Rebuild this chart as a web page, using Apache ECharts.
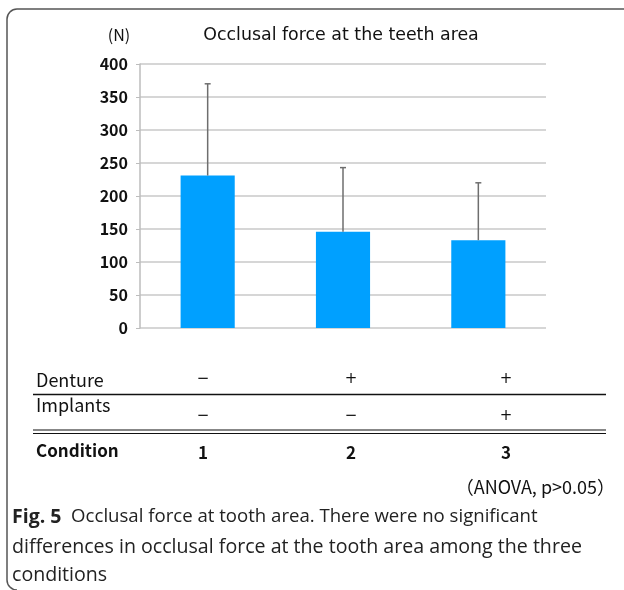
<!DOCTYPE html>
<html>
<head>
<meta charset="utf-8">
<script src="https://cdn.jsdelivr.net/npm/echarts@6/dist/echarts.min.js"></script>
<style>
  html, body { margin: 0; padding: 0; background: #fff; overflow: hidden; }
  #chart { width: 624px; height: 590px; }
</style>
</head>
<body>
<div id="chart"></div>
<script>
// data
const conditions = ['1', '2', '3']
const meanForce = [231, 146, 133]
const upperForce = [370, 243, 220]   // mean + SD (top of whisker)
const yTicks = [0, 50, 100, 150, 200, 250, 300, 350, 400]
const dentureRow = ['−', '+', '+']
const implantsRow = ['−', '−', '+']

const jpFont = '"Noto Sans CJK JP", "Noto Sans", sans-serif'
const capFont = '"Open Sans", "Noto Sans", sans-serif'
const signFont = '"DejaVu Sans", sans-serif'

const chart = echarts.init(document.getElementById('chart'))

// column positions of the table under the chart
const colX = [203, 351, 506]

const tableTexts = []
dentureRow.forEach((t, i) => {
  tableTexts.push({ type: 'text', x: colX[i], y: 379, style: { text: t, font: '15px ' + signFont, fill: '#111', align: 'center', verticalAlign: 'middle' } })
})
implantsRow.forEach((t, i) => {
  tableTexts.push({ type: 'text', x: colX[i], y: 416, style: { text: t, font: '15px ' + signFont, fill: '#111', align: 'center', verticalAlign: 'middle' } })
})
conditions.forEach((t, i) => {
  tableTexts.push({ type: 'text', x: colX[i], y: 453, style: { text: t, font: 'bold 17px ' + jpFont, fill: '#111', align: 'center', verticalAlign: 'middle' } })
})

const frameStyle = { fill: 'none', stroke: '#555', lineWidth: 1.5 }

const option = {
  backgroundColor: '#fff',
  animation: false,
  grid: { left: 140, right: 78, top: 64, bottom: 262 },
  xAxis: {
    type: 'category',
    data: conditions,
    axisLine: { show: false },
    axisTick: { show: false },
    axisLabel: { show: false }
  },
  yAxis: {
    type: 'value',
    min: 0,
    max: 400,
    interval: 50,
    axisLine: { show: true, lineStyle: { color: '#bdbdbd', width: 1.5 } },
    axisTick: { show: true, length: 4, lineStyle: { color: '#bdbdbd' } },
    axisLabel: {
      margin: 12,
      color: '#111',
      fontFamily: jpFont,
      fontWeight: 'bold',
      fontSize: 16,
      formatter: v => (yTicks.includes(v) ? String(v) : '')
    },
    splitLine: { lineStyle: { color: '#c8c8c8', width: 1.5 } }
  },
  series: [
    {
      type: 'bar',
      data: meanForce,
      barWidth: '40%',
      itemStyle: { color: '#00a0ff' },
      z: 2
    },
    {
      // whisker: from mean up to mean + SD
      type: 'custom',
      z: 3,
      data: conditions.map((c, i) => [i, meanForce[i], upperForce[i]]),
      renderItem: function (params, api) {
        const lo = api.coord([api.value(0), api.value(1)])
        const hi = api.coord([api.value(0), api.value(2)])
        const style = { stroke: '#6e6e6e', lineWidth: 1.5 }
        return {
          type: 'group',
          children: [
            { type: 'line', shape: { x1: lo[0], y1: lo[1], x2: hi[0], y2: hi[1] }, style },
            { type: 'line', shape: { x1: hi[0] - 3, y1: hi[1], x2: hi[0] + 3, y2: hi[1] }, style }
          ]
        }
      }
    }
  ],
  graphic: [
    // frame (open on the right and bottom)
    { type: 'line', shape: { x1: 17, y1: 9, x2: 624, y2: 9 }, style: frameStyle, silent: true },
    { type: 'line', shape: { x1: 7, y1: 19, x2: 7, y2: 580 }, style: frameStyle, silent: true },
    { type: 'arc', shape: { cx: 17, cy: 19, r: 10, startAngle: Math.PI, endAngle: Math.PI * 1.5 }, style: frameStyle, silent: true },
    { type: 'arc', shape: { cx: 17, cy: 580, r: 10, startAngle: Math.PI * 0.5, endAngle: Math.PI }, style: frameStyle, silent: true },
    { type: 'text', x: 119, y: 35, style: { text: '(N)', font: '16px ' + jpFont, fill: '#111', align: 'center', verticalAlign: 'middle' } },
    { type: 'text', x: 341, y: 35, style: { text: 'Occlusal force at the teeth area', font: '17.4px "DejaVu Sans", sans-serif', fill: '#111', align: 'center', verticalAlign: 'middle' } },
    // table
    { type: 'text', x: 36, y: 380, style: { text: 'Denture', font: '18px ' + jpFont, fill: '#111', verticalAlign: 'middle' } },
    { type: 'line', shape: { x1: 33, y1: 394.5, x2: 606, y2: 394.5 }, style: { stroke: '#111', lineWidth: 1.5 } },
    { type: 'text', x: 36, y: 405, style: { text: 'Implants', font: '18px ' + jpFont, fill: '#111', verticalAlign: 'middle' } },
    { type: 'line', shape: { x1: 33, y1: 430, x2: 606, y2: 430 }, style: { stroke: '#111', lineWidth: 1.2 } },
    { type: 'line', shape: { x1: 33, y1: 433.5, x2: 606, y2: 433.5 }, style: { stroke: '#111', lineWidth: 1.2 } },
    { type: 'text', x: 36, y: 451, style: { text: 'Condition', font: 'bold 17px ' + jpFont, fill: '#111', verticalAlign: 'middle' } },
    ...tableTexts,
    { type: 'text', x: 615, y: 487, style: { text: '（ANOVA, p>0.05）', font: '18px ' + jpFont, fill: '#111', align: 'right', verticalAlign: 'middle' } },
    // caption
    {
      type: 'text', x: 12, y: 517,
      style: {
        text: '{b|Fig. 5}  Occlusal force at tooth area. There were no significant',
        font: '18.6px ' + capFont, fill: '#222', verticalAlign: 'middle',
        rich: { b: { fontWeight: 'bold', fontSize: 19.5, fontFamily: capFont, fill: '#222' } }
      }
    },
    { type: 'text', x: 12, y: 547, style: { text: 'differences in occlusal force at the tooth area among the three', font: '19.6px ' + capFont, fill: '#222', verticalAlign: 'middle' } },
    { type: 'text', x: 12, y: 575, style: { text: 'conditions', font: '19.6px ' + capFont, fill: '#222', verticalAlign: 'middle' } }
  ]
}

chart.setOption(option)
</script>
</body>
</html>
